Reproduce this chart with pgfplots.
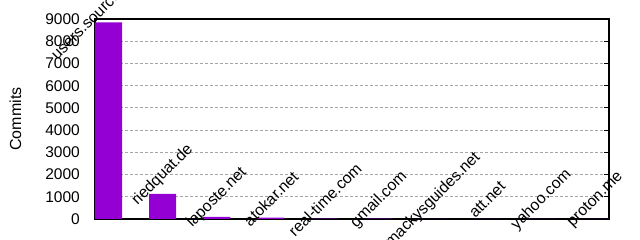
\documentclass[border=0pt]{standalone}
\usepackage{pgfplots}
\pgfplotsset{compat=1.18}
\usepackage{fontspec}
\setmainfont{Liberation Sans}
\definecolor{barc}{RGB}{148,0,211}
\pgfplotstableread[col sep=comma]{
x,y,label
0,8850,users.sourceforge.net
1,1130,riedquat.de
2,100,laposte.net
3,60,atokar.net
4,15,real-time.com
5,12,gmail.com
6,8,mackysguides.net
7,6,att.net
8,5,yahoo.com
9,4,proton.me
}\commits
\begin{document}
\begin{tikzpicture}[x=1pt,y=1pt]
\useasboundingbox (0,0) rectangle (640,240);
\begin{axis}[
  at={(95pt,21pt)}, anchor=south west,
  scale only axis, width=514pt, height=200pt,
  xmin=-0.25, xmax=9.25, ymin=0, ymax=9000,
  xtick=\empty,
  ytick={0,1000,...,9000},
  ytick pos=both, tick align=inside,
  major tick length=5pt,
  /pgf/number format/assume math mode=true,
  /pgf/number format/1000 sep={},
  yticklabel style={font=\fontsize{15.5}{15.5}\selectfont, inner sep=0pt, xshift=-15pt},
  ymajorgrids,
  grid style={gray!70, dash pattern=on 3pt off 2pt, line width=0.8pt},
  axis line style={line width=1.2pt},
  every tick/.style={black, line width=0.9pt},
  ylabel={Commits},
  every axis y label/.style={at={(axis description cs:-0.1547,0.5)}, rotate=90, anchor=center, font=\fontsize{16}{16}\selectfont},
  clip=false,
  ybar, bar width=0.5,
  point meta=explicit symbolic,
  nodes near coords,
  nodes near coords align={center},
  every node near coord/.append style={font=\fontsize{15.8}{15.8}\selectfont, anchor=center, inner sep=0pt, yshift=19pt, rotate=45},
]
\addplot[fill=barc, draw=none] table[x=x, y=y, meta=label] {\commits};
\end{axis}
\end{tikzpicture}
\end{document}
